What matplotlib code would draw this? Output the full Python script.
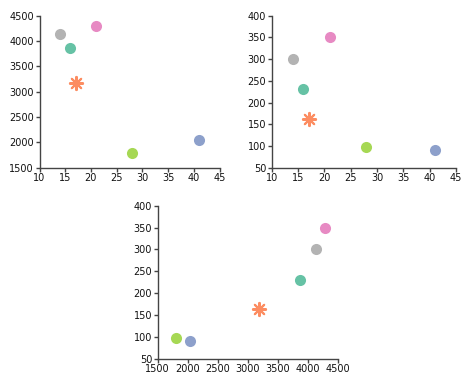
import matplotlib
matplotlib.use("Agg")
import matplotlib.pyplot as plt

# data
age = [14, 16, 17, 21, 28, 41]
value_a = [4130, 3870, 3180, 4290, 1800, 2040]
value_b = [301, 231, 163, 350, 98, 90]
colors = ["#b3b3b3", "#66c2a5", "#fc8d62", "#e78ac3", "#a6d854", "#8da0cb"]
markers = ["o", "o", (8, 2, 0), "o", "o", "o"]

W, H = 474, 387
fig = plt.figure(figsize=(W / 100, H / 100), dpi=100)
plt.rcParams['font.family'] = ['DejaVu Sans']


def make_axes(x0, x1, ytop, ybot):
    # pixel box -> figure fraction
    return fig.add_axes([x0 / W, 1 - ybot / H, (x1 - x0) / W, (ybot - ytop) / H])


def scatter(ax, xs, ys):
    for x, y, c, m in zip(xs, ys, colors, markers):
        if m == "o":
            ax.scatter([x], [y], s=64, color=c, marker="o", linewidths=0, zorder=3)
        else:
            ax.scatter([x], [y], s=90, color=c, marker=m, linewidths=1.5, zorder=3)


def style(ax, xlim, ylim, xticks, yticks):
    ax.set_xlim(*xlim)
    ax.set_ylim(*ylim)
    ax.set_xticks(xticks)
    ax.set_yticks(yticks)
    for s in ["top", "right"]:
        ax.spines[s].set_visible(False)
    for s in ["left", "bottom"]:
        ax.spines[s].set_color("#444444")
        ax.spines[s].set_linewidth(1)
    ax.tick_params(length=3, width=1, color="#444444", labelsize=7, pad=1,
                   labelcolor="#111111")
    ax.patch.set_alpha(0)


ax1 = make_axes(39.5, 219.5, 15.7, 167.7)
scatter(ax1, age, value_a)
style(ax1, (10, 45), (1500, 4500), range(10, 46, 5), range(1500, 4501, 500))

ax2 = make_axes(271.7, 456, 15.7, 167.7)
scatter(ax2, age, value_b)
style(ax2, (10, 45), (50, 400), range(10, 46, 5), range(50, 401, 50))

ax3 = make_axes(157.7, 337.7, 205.7, 358.7)
scatter(ax3, value_a, value_b)
style(ax3, (1500, 4500), (50, 400), range(1500, 4501, 500), range(50, 401, 50))

fig.savefig("out.png", dpi=100)
